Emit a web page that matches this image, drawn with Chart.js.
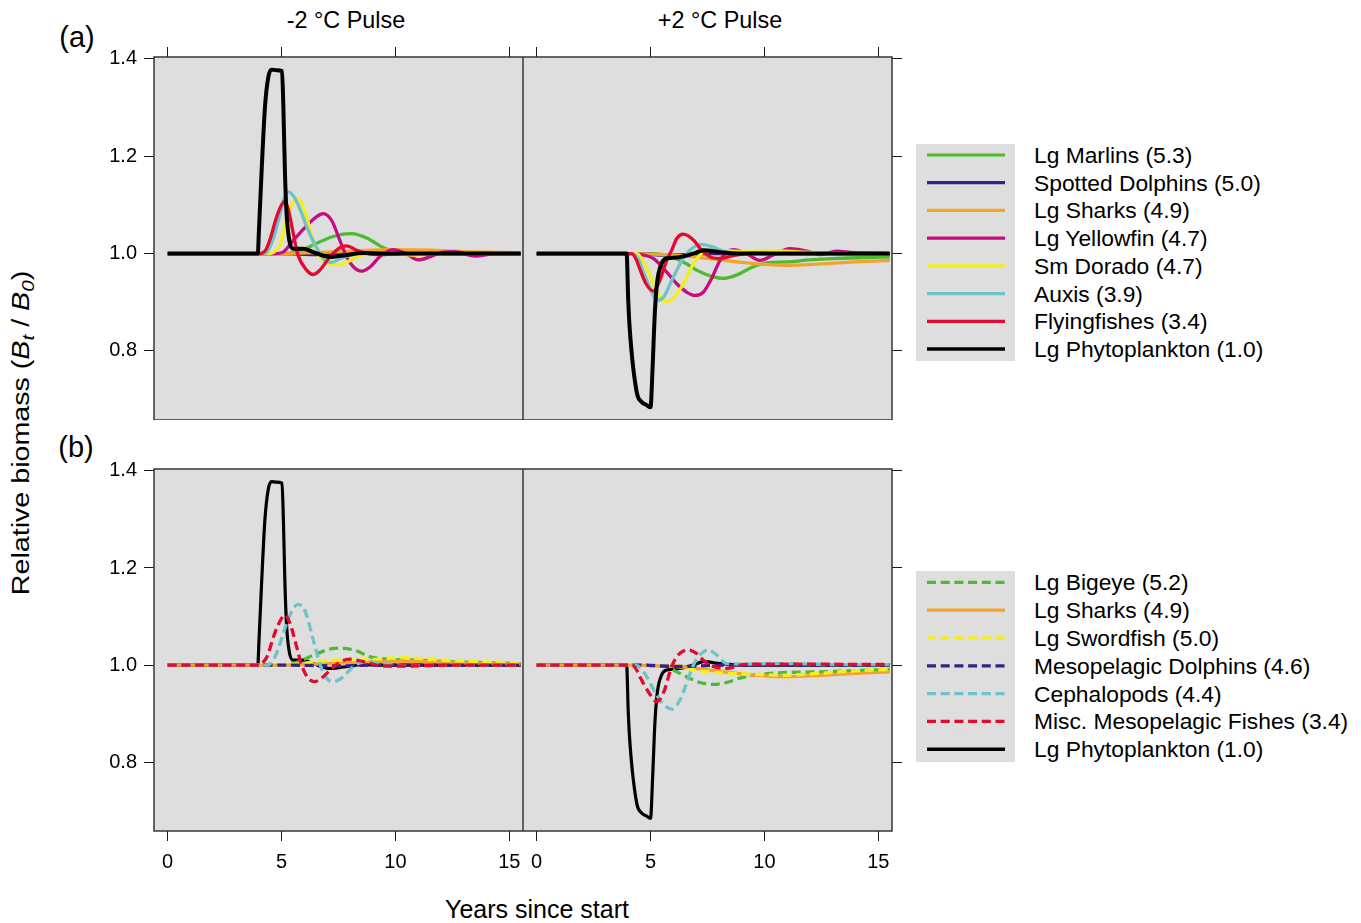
<!DOCTYPE html>
<html>
<head>
<meta charset="utf-8">
<title>Relative biomass after temperature pulses</title>
<script src="https://cdn.jsdelivr.net/npm/chart.js@4.4.1/dist/chart.umd.min.js"></script>
<style>
  html, body { margin: 0; padding: 0; background: #fff; }
  body { position: relative; width: 1361px; height: 923px; overflow: hidden;
         font-family: "Liberation Sans", Arial, Helvetica, sans-serif; color: #000; }
  canvas { position: absolute; }
  .txt { position: absolute; white-space: nowrap; }
  .ytitle i { font-style: italic; }
  .ytitle sub { font-size: 0.72em; vertical-align: -0.28em; line-height: 0; }
</style>
</head>
<body>
<script>
// axis setup
const xTicks = [0, 5, 10, 15];
const yTicks = [0.8, 1.0, 1.2, 1.4];
const xRange = [-0.6, 15.6];
const yRange = [0.658, 1.404];
const pulseTitles = ['-2 °C Pulse', '+2 °C Pulse'];

const labelsA = ['Lg Marlins (5.3)', 'Spotted Dolphins (5.0)', 'Lg Sharks (4.9)', 'Lg Yellowfin (4.7)',
  'Sm Dorado (4.7)', 'Auxis (3.9)', 'Flyingfishes (3.4)', 'Lg Phytoplankton (1.0)'];
const labelsB = ['Lg Bigeye (5.2)', 'Lg Sharks (4.9)', 'Lg Swordfish (5.0)', 'Mesopelagic Dolphins (4.6)',
  'Cephalopods (4.4)', 'Misc. Mesopelagic Fishes (3.4)', 'Lg Phytoplankton (1.0)'];

// [year, B/B0] -- cold pulse (-2 °C)
const phytoCool = [[0,1],[3.96,1],[4.0,1.04],[4.12,1.165],[4.27,1.3],[4.42,1.363],[4.56,1.378],[4.78,1.377],
  [5.02,1.375],[5.08,1.3],[5.15,1.165],[5.22,1.082],[5.34,1.027],[5.51,1.01],[5.95,1.01],[6.39,1.003],
  [7.12,0.993],[7.71,0.996],[8.59,1.001],[9.5,1],[15.5,1]];
const marlinsCool = [[0,1],[5.0,1],[5.5,1.002],[5.95,1.008],[6.54,1.021],[7.2,1.034],[7.7,1.04],[8.08,1.041],
  [8.74,1.032],[9.47,1.012],[10.05,1.003],[10.9,1],[15.5,1]];
const spottedCool = [[0,1],[5,1],[6.5,0.998],[8,1.001],[10,1],[15.5,1]];
const sharksCool = [[0,1],[5,1],[6.5,1.002],[8,1.005],[10,1.008],[11.5,1.007],[13,1.004],[15.5,1.002]];
const yellowfinCool = [[0,1],[4.3,1],[4.7,1],[5.07,1.003],[5.51,1.027],[6.1,1.057],[6.54,1.076],[6.83,1.082],
  [7.2,1.068],[7.56,1.027],[7.86,0.993],[8.15,0.973],[8.52,0.964],[8.9,0.973],[9.32,0.994],[9.9,1.008],
  [10.45,1],[11.0,0.987],[11.5,0.993],[12.0,1.002],[12.6,1.004],[13.5,0.995],[14.4,1],[15.5,1]];
const doradoCool = [[0,1],[4.5,1],[4.75,1.006],[4.95,1.02],[5.22,1.072],[5.5,1.105],[5.73,1.113],[5.95,1.095],
  [6.1,1.075],[6.39,1.027],[6.68,0.993],[7.0,0.98],[7.3,0.977],[7.71,0.979],[8.3,0.993],[8.9,1],
  [9.8,1.001],[10.8,0.997],[11.8,1],[15.5,1]];
const auxisCool = [[0,1],[4.25,1],[4.55,1.02],[4.93,1.08],[5.12,1.115],[5.3,1.127],[5.5,1.12],[5.73,1.1],
  [6.17,1.048],[6.6,1.007],[6.9,0.986],[7.2,0.982],[7.6,0.99],[8.3,1],[9.0,1.002],[10,1],[15.5,1]];
const flyingCool = [[0,1],[4.05,1],[4.3,1.007],[4.5,1.03],[4.76,1.072],[5.0,1.1],[5.15,1.107],[5.3,1.09],
  [5.5,1.045],[5.7,1.0],[6.1,0.966],[6.39,0.957],[6.68,0.966],[7.12,0.993],[7.56,1.012],[7.86,1.016],
  [8.3,1.007],[8.89,0.999],[9.5,0.998],[10.3,1],[15.5,1]];
const bigeyeCool = [[0,1],[5.0,1],[5.5,1.003],[5.9,1.01],[6.54,1.023],[7.12,1.033],[7.64,1.035],[8.3,1.029],
  [8.89,1.017],[9.76,1.012],[10.93,1.01],[12.4,1.007],[13.9,1.005],[15.5,1.003]];
const swordfishCool = [[0,1],[5.0,1],[5.8,1.003],[6.54,1.007],[7.27,1.01],[8.73,1.011],[10.34,1.015],
  [11.66,1.011],[13.1,1.008],[15.5,1.004]];
const mesoDolphinsCool = [[0,1],[5,1],[6.5,0.999],[7.5,0.998],[9,1],[15.5,1]];
const cephalopodsCool = [[0,1],[4.4,1],[4.6,1.008],[4.78,1.024],[5.22,1.085],[5.51,1.116],[5.73,1.125],
  [6.02,1.113],[6.39,1.052],[6.68,1.003],[6.98,0.973],[7.27,0.966],[7.71,0.976],[8.15,0.997],[8.73,1.007],
  [9.47,1.003],[10.63,0.998],[11.66,1],[15.5,1]];
const mesoFishCool = [[0,1],[4.05,1],[4.2,1.006],[4.36,1.017],[4.72,1.068],[5.0,1.096],[5.15,1.103],
  [5.37,1.086],[5.66,1.038],[5.88,1.0],[6.17,0.973],[6.47,0.966],[6.83,0.976],[7.2,0.993],[7.64,1.008],
  [8.0,1.012],[8.59,1.007],[9.46,0.998],[10.6,0.998],[12.4,1],[15.5,1]];

// [year, B/B0] -- warm pulse (+2 °C)
const phytoWarm = [[0,1],[3.95,1],[4.02,0.904],[4.1,0.836],[4.39,0.716],[4.61,0.695],[4.82,0.689],[5.0,0.684],
  [5.09,0.767],[5.19,0.88],[5.29,0.941],[5.48,0.979],[5.71,0.99],[6.15,0.992],[6.88,1.0],[7.32,1.007],
  [8.05,1.003],[8.93,1],[15.5,1]];
const marlinsWarm = [[0,1],[5.2,1],[5.8,0.995],[6.58,0.979],[7.02,0.966],[7.76,0.952],[8.19,0.949],[8.78,0.956],
  [9.51,0.973],[10.1,0.981],[10.97,0.983],[12,0.987],[13.17,0.99],[14.5,0.992],[15.5,0.993]];
const spottedWarm = [[0,1],[4.5,1],[5.5,0.997],[6.5,0.998],[7.5,1],[15.5,1]];
const sharksWarm = [[0,1],[4.3,1],[5.5,0.998],[6.58,0.995],[7.5,0.99],[8.78,0.983],[10,0.978],[10.97,0.976],
  [12.5,0.979],[14,0.983],[15.5,0.986]];
const yellowfinWarm = [[0,1],[4.3,1],[4.7,0.997],[5.12,0.99],[5.71,0.962],[6.15,0.938],[6.58,0.921],[6.95,0.914],
  [7.32,0.921],[7.68,0.949],[8.05,0.986],[8.34,1.003],[8.63,1.008],[9.2,1],[9.8,0.986],[10.39,0.997],
  [11.12,1.01],[11.85,1.005],[12.44,0.998],[13.17,1.005],[13.9,1.002],[14.8,1.001],[15.5,1]];
const doradoWarm = [[0,1],[4.4,1],[4.6,0.99],[4.82,0.972],[5.27,0.924],[5.63,0.901],[6.0,0.908],[6.44,0.938],
  [6.88,0.979],[7.24,1.0],[7.76,1.007],[8.63,1.005],[9.5,1.004],[10.4,1.006],[11.7,1.003],[13.2,1.001],[15.5,1]];
const auxisWarm = [[0,1],[4.2,1],[4.45,0.99],[4.68,0.963],[4.97,0.93],[5.27,0.904],[5.56,0.91],[6.0,0.952],
  [6.44,0.99],[6.8,1.01],[7.24,1.019],[7.76,1.013],[8.34,1.003],[9.2,1],[15.5,1]];
const flyingWarm = [[0,1],[4.17,1],[4.39,0.986],[4.5,0.972],[4.8,0.938],[5.12,0.923],[5.41,0.945],[5.71,0.986],
  [5.93,1.007],[6.15,1.031],[6.43,1.04],[6.88,1.028],[7.24,1.007],[7.68,0.992],[8.05,0.99],[8.63,0.996],
  [9.5,1.001],[10.5,1],[15.5,1]];
const bigeyeWarm = [[0,1],[5.0,1],[5.7,0.997],[6.15,0.986],[6.58,0.976],[7.17,0.964],[7.75,0.96],[8.34,0.964],
  [8.92,0.973],[9.51,0.979],[10.24,0.983],[12.44,0.986],[15.5,0.991]];
const swordfishWarm = [[0,1],[5.0,1],[6.29,0.997],[6.88,0.99],[8.05,0.984],[9.51,0.981],[10.97,0.979],
  [12.44,0.983],[13.9,0.988],[15.5,0.991]];
const mesoDolphinsWarm = [[0,1],[4.5,1],[5.5,0.998],[6.5,0.997],[7.5,0.999],[8.5,1],[15.5,1]];
const cephalopodsWarm = [[0,1],[4.3,1],[4.55,0.995],[4.83,0.976],[5.27,0.938],[5.63,0.916],[5.93,0.909],
  [6.29,0.928],[6.58,0.962],[6.88,1.0],[7.24,1.024],[7.53,1.031],[7.9,1.021],[8.34,1.003],[9.2,1.002],
  [10.97,1.003],[13,1.001],[15.5,1.001]];
const mesoFishWarm = [[0,1],[4.2,1],[4.35,0.993],[4.53,0.976],[4.9,0.945],[5.27,0.925],[5.56,0.942],
  [5.93,0.997],[6.15,1.017],[6.37,1.027],[6.66,1.031],[7.02,1.024],[7.32,1.01],[7.61,1],[8.34,0.993],
  [9.2,1.002],[11,1.002],[15.5,1.001]];

// line styles
const green = '#4dba32', navy = '#3b1f86', orange = '#f2a32c', magenta = '#c70c7f',
      yellow = '#f3ef1c', cyan = '#6dc3c7', red = '#e4092e', black = '#000000';

const stylesA = [
  { color: green }, { color: navy }, { color: orange }, { color: magenta },
  { color: yellow }, { color: cyan }, { color: red }, { color: black, width: 4, legendWidth: 3.6 }
];
const stylesB = [
  { color: green, dash: true }, { color: orange }, { color: yellow, dash: true }, { color: navy, dash: true },
  { color: cyan, dash: true }, { color: red, dash: true }, { color: black, width: 3.2, legendWidth: 3.6, under: true }
];

const coolA = [marlinsCool, spottedCool, sharksCool, yellowfinCool, doradoCool, auxisCool, flyingCool, phytoCool];
const warmA = [marlinsWarm, spottedWarm, sharksWarm, yellowfinWarm, doradoWarm, auxisWarm, flyingWarm, phytoWarm];
const coolB = [bigeyeCool, sharksCool, swordfishCool, mesoDolphinsCool, cephalopodsCool, mesoFishCool, phytoCool];
const warmB = [bigeyeWarm, sharksWarm, swordfishWarm, mesoDolphinsWarm, cephalopodsWarm, mesoFishWarm, phytoWarm];

const fontFamily = '"Liberation Sans", Arial, Helvetica, sans-serif';
const tickInk = '#1a1a1a';
const frameInk = '#363636';
const panelFill = '#dedede';
const dashPattern = [9, 4.7];
const lineWidth = 3.3;

Chart.defaults.font.family = fontFamily;
Chart.defaults.font.size = 20;
Chart.defaults.color = '#000';

// grey panel background and border around the plotting area
const panelFrame = {
  id: 'panelFrame',
  beforeDatasetsDraw(chart) {
    const a = chart.chartArea, ctx = chart.ctx;
    ctx.save();
    ctx.fillStyle = panelFill;
    ctx.fillRect(a.left, a.top, a.right - a.left, a.bottom - a.top);
    ctx.restore();
  },
  afterDatasetsDraw(chart) {
    const a = chart.chartArea, ctx = chart.ctx;
    ctx.save();
    ctx.strokeStyle = frameInk;
    ctx.lineWidth = 1.5;
    ctx.strokeRect(a.left, a.top, a.right - a.left, a.bottom - a.top);
    ctx.restore();
  }
};

function addCanvas(left, top, width, height) {
  const c = document.createElement('canvas');
  c.width = width;
  c.height = height;
  c.style.left = left + 'px';
  c.style.top = top + 'px';
  document.body.appendChild(c);
  return c;
}

// one lattice panel; col 0 carries the left axis, col 1 the right one
function makePanel(left, top, width, height, col, row, seriesData, styles, labels) {
  const canvas = addCanvas(left, top, width, height);
  const n = seriesData.length;
  const datasets = seriesData.map((d, i) => {
    const s = styles[i];
    return {
      label: labels[i],
      data: d,
      borderColor: s.color,
      borderWidth: s.width || lineWidth,
      borderDash: s.dash ? dashPattern : [],
      borderCapStyle: 'butt',
      borderJoinStyle: 'round',
      order: s.under ? n + 1 : n - i,
      pointRadius: 0,
      pointHoverRadius: 0,
      fill: false,
      cubicInterpolationMode: 'monotone'
    };
  });
  const tickGrid = { drawOnChartArea: false, drawTicks: true, tickLength: 10, color: tickInk, lineWidth: 1 };
  return new Chart(canvas, {
    type: 'line',
    data: { datasets: datasets },
    options: {
      responsive: false,
      animation: false,
      devicePixelRatio: 1,
      // bottom row has no top axis; leave room above for the 1.4 label
      layout: { padding: { top: row === 1 ? 20 : 0 }, autoPadding: false },
      events: [],
      plugins: { legend: { display: false }, tooltip: { enabled: false } },
      scales: {
        x: {
          type: 'linear',
          position: row === 0 ? 'top' : 'bottom',
          min: xRange[0],
          max: xRange[1],
          afterBuildTicks: s => { s.ticks = xTicks.map(v => ({ value: v })); },
          afterFit: s => { s.height = row === 0 ? 17 : 58; s.paddingLeft = 0; s.paddingRight = 0; },
          grid: tickGrid,
          border: { display: false },
          ticks: { display: row === 1, padding: 9, maxRotation: 0, autoSkip: false,
                   callback: v => String(v) }
        },
        y: {
          type: 'linear',
          position: col === 0 ? 'left' : 'right',
          min: yRange[0],
          max: yRange[1],
          afterBuildTicks: s => { s.ticks = yTicks.map(v => ({ value: v })); },
          afterFit: s => { s.width = col === 0 ? 54 : 12; s.paddingTop = 0; s.paddingBottom = 0; },
          grid: tickGrid,
          border: { display: false },
          ticks: { display: col === 0, padding: 7, autoSkip: false, callback: v => v.toFixed(1) }
        }
      }
    },
    plugins: [panelFrame]
  });
}

makePanel(100, 40, 423, 380, 0, 0, coolA, stylesA, labelsA);
makePanel(523, 40, 381, 380, 1, 0, warmA, stylesA, labelsA);
makePanel(100, 449, 423, 440, 0, 1, coolB, stylesB, labelsB);
makePanel(523, 449, 381, 440, 1, 1, warmB, stylesB, labelsB);

function addText(html, x, yMid, size, align, extraClass) {
  const d = document.createElement('div');
  d.className = 'txt' + (extraClass ? ' ' + extraClass : '');
  d.innerHTML = html;
  const lh = Math.round(size * 1.3);
  d.style.fontSize = size + 'px';
  d.style.lineHeight = lh + 'px';
  d.style.top = (yMid - lh / 2) + 'px';
  d.style.left = x + 'px';
  if (align === 'center') d.style.transform = 'translateX(-50%)';
  document.body.appendChild(d);
  return d;
}

// legend: grey key box with line samples, labels to its right
function makeLegend(top, height, firstRow, rowStep, styles, labels) {
  const box = addCanvas(916, top, 99, height);
  const ctx = box.getContext('2d');
  ctx.fillStyle = panelFill;
  ctx.fillRect(0, 0, 99, height);
  styles.forEach((s, i) => {
    const y = firstRow + rowStep * i - top;
    ctx.strokeStyle = s.color;
    ctx.lineWidth = s.legendWidth || 3.2;
    ctx.setLineDash(s.dash ? dashPattern : []);
    ctx.beginPath();
    ctx.moveTo(11, y);
    ctx.lineTo(89, y);
    ctx.stroke();
    addText(labels[i], 1034, firstRow + rowStep * i, 22.8, 'left');
  });
}

makeLegend(144, 217, 155, 27.72, stylesA, labelsA);
makeLegend(571, 191, 582.3, 27.83, stylesB, labelsB);

// strip titles, panel tags, axis titles
addText(pulseTitles[0], 346, 20, 23.4, 'center');
addText(pulseTitles[1], 720, 20, 23.4, 'center');
addText('(a)', 77, 37, 29, 'center');
addText('(b)', 76, 447, 29, 'center');
addText('Years since start', 537, 909, 25, 'center');

const yTitle = addText('Relative biomass (<i>B<sub>t</sub></i> / <i>B<sub>0</sub></i>)', 0, 0, 23, 'left', 'ytitle');
const yw = yTitle.offsetWidth, yh = yTitle.offsetHeight;
yTitle.style.left = (21 - yw / 2) + 'px';
yTitle.style.top = (433 - yh / 2) + 'px';
yTitle.style.transform = 'rotate(-90deg) scaleX(' + (325 / yw).toFixed(3) + ')';
</script>
</body>
</html>
